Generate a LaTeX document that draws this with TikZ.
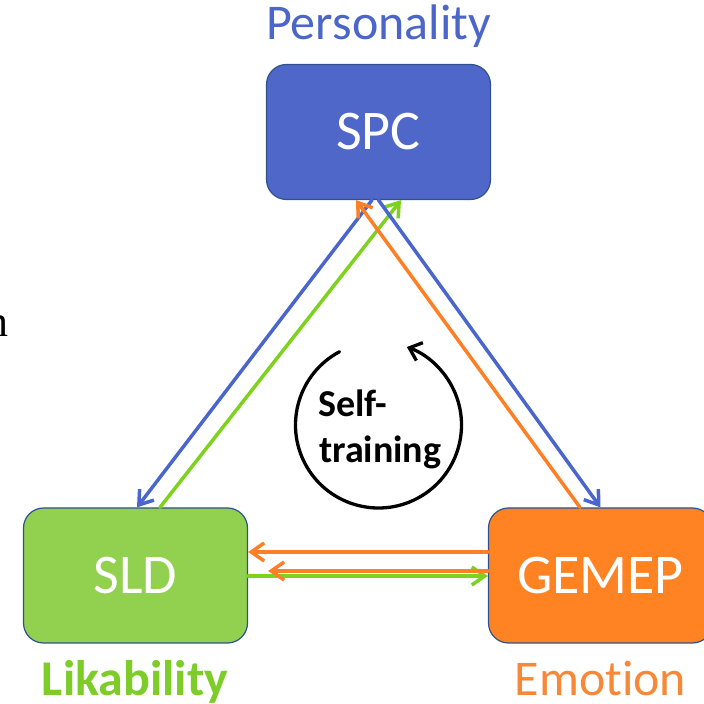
\documentclass[tikz,border=0pt]{standalone}
\usepackage{fontspec}
\setmainfont{Carlito}[Ligatures=NoCommon]
\newfontfamily\serifn{Liberation Serif}
\usetikzlibrary{arrows.meta,calc}
\definecolor{spcblue}{RGB}{79,103,200}
\definecolor{perblue}{RGB}{76,101,200}
\definecolor{arrblue}{RGB}{74,102,204}
\definecolor{sldgreen}{RGB}{146,208,80}
\definecolor{likgreen}{RGB}{125,204,40}
\definecolor{arrgreen}{RGB}{126,210,30}
\definecolor{gemorange}{RGB}{255,130,35}
\definecolor{emoorange}{RGB}{247,136,56}
\definecolor{arrorange}{RGB}{255,127,39}
\definecolor{boxline}{RGB}{47,82,143}
\begin{document}
\begin{tikzpicture}[x=1pt,y=1pt,
  box/.style={draw=boxline, line width=1.2pt, rounded corners=20pt,
    minimum width=224pt, minimum height=135pt, inner sep=0pt, text=white,
    font=\fontsize{56}{60}\selectfont},
  conn/.style={line width=3.5pt, -{Straight Barb[length=13pt,width=18pt]}, line cap=round},
  lbl/.style={inner sep=0pt, anchor=base, font=\fontsize{50}{54}\selectfont},
  selftxt/.style={anchor=base west, inner sep=0pt, font=\bfseries\fontsize{38}{42}\selectfont}]
\useasboundingbox (0,0) rectangle (704,704);
\node[box, fill=spcblue] (spc) at (378.5,572) {SPC};
\node[box, fill=sldgreen] (sld) at (135.5,128.5) {SLD};
\node[box, fill=gemorange] (gemep) at (600.5,128.5) {GEMEP};

\node[lbl, text=perblue] (pers) at (378.5,664) {Personality};
\node[lbl, text=likgreen, font=\bfseries\fontsize{50}{54}\selectfont] (lik) at (135,9) {Likability};
\node[lbl, text=emoorange] (emo) at (600.5,9) {Emot\kern0pt ion};
\node[inner sep=0pt, anchor=base east, font=\serifn\fontsize{44}{48}\selectfont] (nfrag) at (8.5,367) {n};

% diagonal connectors
\draw[conn, arrblue] ([xshift=-6.5pt]spc.south) -- ([xshift=1.5pt]sld.north);
\draw[conn, arrgreen] ([xshift=24.5pt]sld.north) -- ([xshift=22.5pt]spc.south);
\draw[conn, arrblue] (spc.south) -- (gemep.north);
\draw[conn, arrorange] ([xshift=-20.5pt]gemep.north) -- ([xshift=-22.5pt]spc.south);
% horizontal connectors
\draw[conn, arrgreen] ([yshift=-0.5pt]sld.east) -- ([yshift=-0.5pt]gemep.west);
\draw[conn, arrorange] ([yshift=23.5pt]gemep.west) -- ([yshift=23.5pt]sld.east);
\draw[conn, arrorange] ([yshift=4.5pt]gemep.west) -- ([yshift=4.5pt,xshift=20pt]sld.east);

% self-training loop
\coordinate (stc) at (378.5,279);
\draw[line width=3.3pt, line cap=round, -{Straight Barb[length=11pt,width=19pt]}]
  ($(stc)+(118:83)$) arc[start angle=118, end angle=430, radius=83];
\node[selftxt] (selfa) at (318,287) {Self-};
\node[selftxt] (selfb) at (319,241) {training};
\end{tikzpicture}
\end{document}
